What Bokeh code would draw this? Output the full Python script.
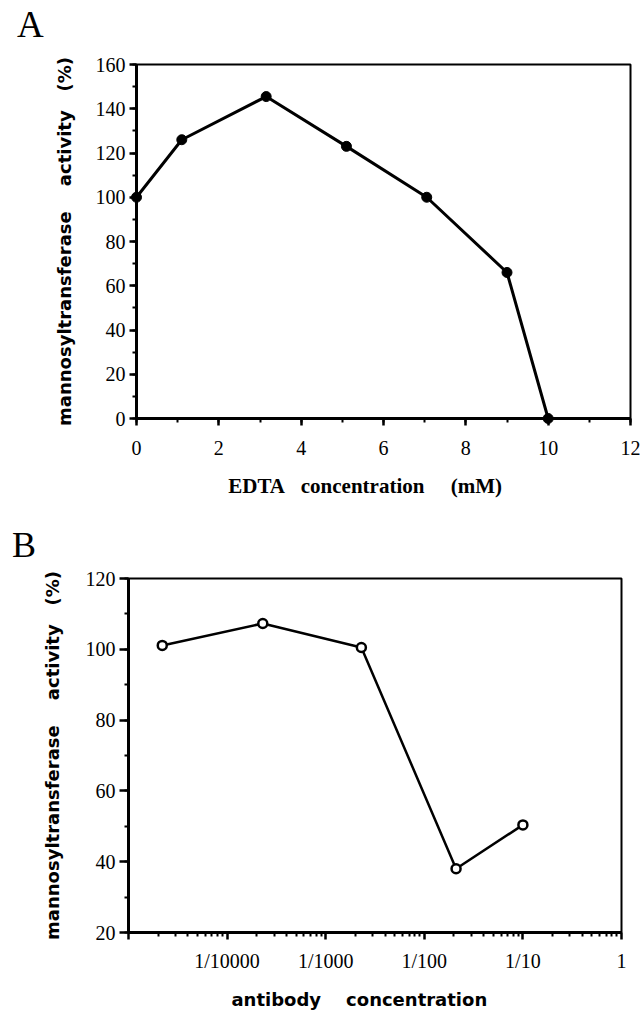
from bokeh.plotting import figure
from bokeh.models import Range1d, SingleIntervalTicker, FixedTicker, Div
from bokeh.embed import file_html
from bokeh.resources import INLINE

# ---- Panel A data: EDTA concentration (mM) vs activity (%)
edta_mM = [0, 1.1, 3.15, 5.1, 7.05, 9.0, 10.0]
edta_activity = [100, 126, 145.5, 123, 100, 66, 0]

# ---- Panel B data: antibody concentration (dilution) vs activity (%)
ab_conc = [2.2e-5, 2.3e-4, 2.3e-3, 2.1e-2, 1.0e-1]
ab_activity = [101.1, 107.3, 100.5, 38.0, 50.4]

ab_tick_values = [1e-5, 1e-4, 1e-3, 1e-2, 1e-1, 1.0]
ab_tick_labels = ["", "1/10000", "1/1000", "1/100", "1/10", "1"]

NB = "\u00a0"
YLABEL = "mannosyltransferase" + NB * 4 + "activity" + NB * 3 + "(%)"

TICK_FONT = "Liberation Serif"
LABEL_FONT = "DejaVu Sans"


def style_axes(p, tick_size="20px"):
    for ax in (p.xaxis[0], p.yaxis[0]):
        ax.axis_line_width = 3
        ax.axis_line_color = "black"
        ax.major_tick_line_width = 2.5
        ax.minor_tick_line_width = 2
        ax.major_tick_line_color = "black"
        ax.minor_tick_line_color = "black"
        ax.major_tick_in = 0
        ax.minor_tick_in = 0
        ax.major_tick_out = 7
        ax.minor_tick_out = 4
        ax.major_label_text_font = TICK_FONT
        ax.major_label_text_font_size = tick_size
        ax.major_label_text_color = "black"
        ax.axis_label_text_font = LABEL_FONT
        ax.axis_label_text_font_style = "bold"
        ax.axis_label_text_color = "black"
    p.grid.visible = False
    p.outline_line_color = "black"
    p.outline_line_width = 2
    p.outline_line_alpha = 1


# ---------------- Panel letters ----------------
letterA = Div(
    text='<div style="font-family:\'Liberation Serif\';font-size:37px;line-height:51px;'
         'padding-left:12px;margin:-6px 0 0 0;color:black">A</div>',
    width=640, height=42,
)
letterB = Div(
    text='<div style="font-family:\'Liberation Serif\';font-size:36px;line-height:36px;'
         'padding-top:25px;padding-left:7px;margin:-6px 0 0 0;color:black">B</div>',
    width=640, height=52,
)

# ---------------- Panel A ----------------
pA = figure(
    output_backend="svg", toolbar_location=None,
    x_range=Range1d(0, 12), y_range=Range1d(0, 160),
    frame_width=494, frame_height=354,
    min_border_left=136, min_border_right=10, min_border_top=12, min_border_bottom=85,
)
style_axes(pA)
pA.xaxis.ticker = SingleIntervalTicker(interval=2, num_minor_ticks=2)
pA.yaxis.ticker = SingleIntervalTicker(interval=20, num_minor_ticks=2)
pA.xaxis.major_label_standoff = 15
pA.yaxis.major_label_standoff = 4
pA.xaxis.axis_label = "EDTA" + NB * 3 + "concentration" + NB * 5 + "(mM)" + NB * 7
pA.xaxis.axis_label_text_font = "Liberation Serif"
pA.xaxis.axis_label_text_font_size = "21px"
pA.xaxis.axis_label_standoff = 16
pA.yaxis.axis_label = YLABEL
pA.yaxis.axis_label_text_font_size = "18px"
pA.yaxis.axis_label_standoff = 18

rA = pA.line(edta_mM, edta_activity, line_color="black", line_width=3)
rA.level = "overlay"
sA = pA.scatter(edta_mM, edta_activity, size=10, marker="circle",
                fill_color="black", line_color="black")
sA.level = "overlay"

# ---------------- Panel B ----------------
pB = figure(
    output_backend="svg", toolbar_location=None,
    x_axis_type="log",
    x_range=Range1d(1e-5, 1.0), y_range=Range1d(20, 120),
    frame_width=493, frame_height=354,
    min_border_left=128, min_border_right=15, min_border_top=13, min_border_bottom=76,
)
style_axes(pB)
minor_b = [m * 10.0 ** e for e in range(-5, 0) for m in range(2, 10)]
pB.xaxis.ticker = FixedTicker(ticks=ab_tick_values, minor_ticks=minor_b)
pB.xaxis.major_label_overrides = dict(zip(ab_tick_values, ab_tick_labels))
pB.yaxis.ticker = SingleIntervalTicker(interval=20, num_minor_ticks=2)
pB.xaxis.major_label_standoff = 10
pB.yaxis.major_label_standoff = 4
pB.yaxis.major_tick_out = 9
pB.xaxis.axis_label = "antibody" + NB * 4 + "concentration" + NB * 5
pB.xaxis.axis_label_text_font_size = "18px"
pB.xaxis.axis_label_standoff = 14
pB.yaxis.axis_label = YLABEL
pB.yaxis.axis_label_text_font_size = "18px"
pB.yaxis.axis_label_standoff = 20

rB = pB.line(ab_conc, ab_activity, line_color="black", line_width=2.5)
rB.level = "overlay"
sB = pB.scatter(ab_conc, ab_activity, size=9, marker="circle",
                fill_color="white", line_color="black", line_width=2.5)
sB.level = "overlay"

open("out.html", "w").write(file_html([letterA, pA, letterB, pB], INLINE))
